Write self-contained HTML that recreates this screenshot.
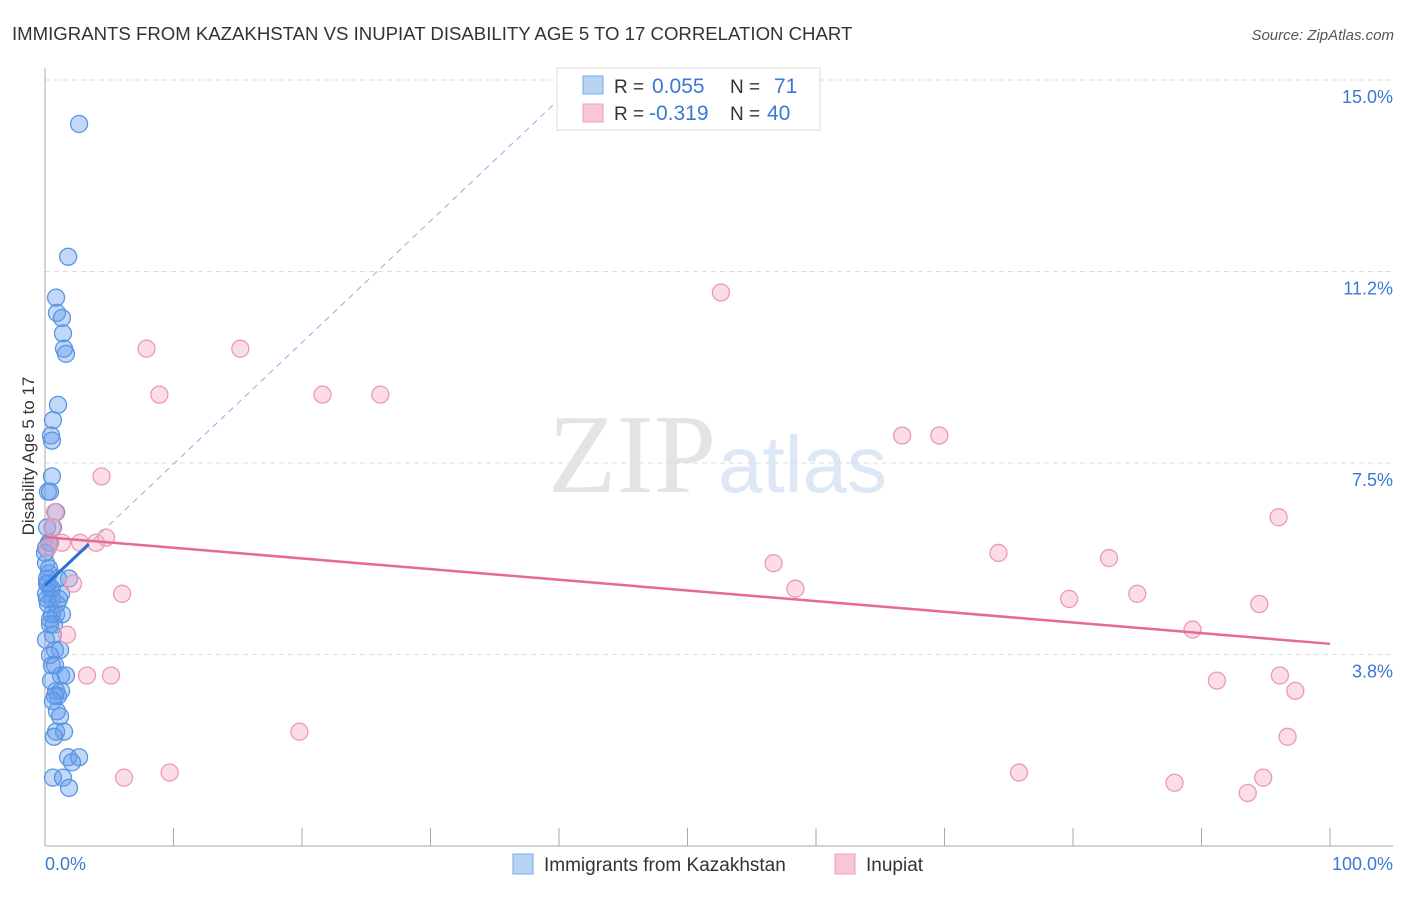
<!DOCTYPE html>
<html><head><meta charset="utf-8"><style>
body{margin:0;background:#fff;font-family:"Liberation Sans",sans-serif}
</style></head><body>
<svg id="c" width="1406" height="892" viewBox="0 0 1406 892" xmlns="http://www.w3.org/2000/svg">
<text x="12" y="40" font-size="18.6" fill="#333">IMMIGRANTS FROM KAZAKHSTAN VS INUPIAT DISABILITY AGE 5 TO 17 CORRELATION CHART</text>
<text x="1394" y="40" font-size="15" fill="#555" font-style="italic" text-anchor="end">Source: ZipAtlas.com</text>
<text x="716" y="492" font-size="112" fill="#e4e4e4" font-family="Liberation Serif,serif" text-anchor="end">ZIP</text>
<text x="718" y="492" font-size="80" fill="#dce8f6">atlas</text>
<text transform="translate(34,456) rotate(-90)" font-size="17" fill="#333" text-anchor="middle">Disability Age 5 to 17</text>
<g id="grid"></g><g id="marks"></g>
<g>
<rect x="557" y="68" width="263" height="62" fill="#fff" stroke="#ddd"/>
<rect x="583" y="76" width="20" height="18" fill="#b9d3f7" stroke="#7aa8e8"/>
<rect x="583" y="104" width="20" height="18" fill="#f9c6d4" stroke="#eea0b6"/>
<text x="614" y="93" font-size="19" fill="#333">R = <tspan x="652" fill="#3a78d4" font-size="21">0.055</tspan><tspan x="730">N = </tspan><tspan x="774" fill="#3a78d4" font-size="21">71</tspan></text>
<text x="614" y="120" font-size="19" fill="#333">R = <tspan x="649" fill="#3a78d4" font-size="21">-0.319</tspan><tspan x="730">N = </tspan><tspan x="767" fill="#3a78d4" font-size="21">40</tspan></text>
</g>
<g>
<rect x="513" y="854" width="20" height="20" fill="#b9d3f7" stroke="#7aa8e8"/>
<text x="544" y="871" font-size="19" fill="#333">Immigrants from Kazakhstan</text>
<rect x="835" y="854" width="20" height="20" fill="#f9c6d4" stroke="#eea0b6"/>
<text x="866" y="871" font-size="19" fill="#333">Inupiat</text>
</g>
</svg>
<script>
const yTicks=[15.0,11.25,7.5,3.75];
const yTickLabels=["15.0%","11.2%","7.5%","3.8%"];
const xTickLabels=["0.0%","100.0%"];
const blueX=[2.65,1.8,0.86,0.93,1.32,1.4,1.48,1.63,1.01,0.62,0.47,0.54,0.54,0.23,0.39,0.86,0.62,0.31,0.39,0.08,0.31,0.31,0.16,1.87,0.23,0.39,0.08,1.25,0.54,0.93,0.86,1.32,0.54,0.39,0.7,0.62,0.78,1.17,0.39,0.54,0.78,1.25,1.63,0.86,1.25,1.01,0.62,1.17,1.48,0.86,0.7,1.8,2.65,2.1,0.62,1.4,1.87,0.08,0.16,0.23,0.39,0.08,0.47,0.78,0.93,0.16,0.0,0.54,1.01,0.16,1.09];
const blueY=[14.1,11.5,10.7,10.4,10.3,10.0,9.7,9.6,8.6,8.3,8.0,7.9,7.2,6.9,6.9,6.5,6.2,5.9,5.9,5.8,5.4,5.3,5.2,5.2,5.1,5.0,4.9,4.9,4.8,4.7,4.5,4.5,4.5,4.4,4.3,4.1,3.8,3.8,3.7,3.5,3.5,3.3,3.3,3.0,3.0,2.9,2.8,2.5,2.2,2.2,2.1,1.7,1.7,1.6,1.3,1.3,1.1,5.5,5.1,4.7,4.3,4.0,3.2,2.9,2.6,6.2,5.7,5.0,5.2,4.8,4.8];
const pinkX=[52.6,7.9,15.2,8.9,21.6,26.1,66.7,69.6,4.4,96.0,0.78,0.54,1.32,2.73,3.97,4.75,0.23,2.18,74.2,82.8,56.7,58.4,6.0,85.0,79.7,94.5,1.71,89.3,3.27,5.14,91.2,96.1,97.3,19.8,96.7,75.8,9.7,6.15,87.9,94.8,93.6];
const pinkY=[10.8,9.7,9.7,8.8,8.8,8.8,8.0,8.0,7.2,6.4,6.5,6.2,5.9,5.9,5.9,6.0,5.8,5.1,5.7,5.6,5.5,5.0,4.9,4.9,4.8,4.7,4.1,4.2,3.3,3.3,3.2,3.3,3.0,2.2,2.1,1.4,1.4,1.3,1.2,1.3,1.0];
const pinkTrend=[6.05,3.96];
const blueTrend=[5.1,0.238];
const X=v=>45+v*12.85, Y=v=>80+(15-v)*51.07, YP=v=>Y(v)-2;
const NS="http://www.w3.org/2000/svg";
function mk(t,a,p){const e=document.createElementNS(NS,t);for(const k in a)e.setAttribute(k,a[k]);p.appendChild(e);return e;}
const g=document.getElementById('grid'), m=document.getElementById('marks');
yTicks.forEach((t,i)=>{
 const l=mk('line',{x1:45,x2:1393,y1:Y(t),y2:Y(t),stroke:'#ddd','stroke-dasharray':'5,4'},g);
 
 
 const tx=mk('text',{x:1393,y:Y(t)+23,'font-size':18,fill:'#3a78d4','text-anchor':'end'},g);
 tx.textContent=yTickLabels[i];
 
 
});
const ax=mk('line',{x1:45,x2:45,y1:68,y2:846,stroke:'#aaa'},g);


const bx=mk('line',{x1:45,x2:1393,y1:846,y2:846,stroke:'#aaa'},g);


for(let i=0;i<=10;i++){const t=mk('line',{x1:X(i*10),x2:X(i*10),y1:828,y2:846,stroke:'#aaa'},g);
 
 }
[[X(0),'start'],[1393,'end']].forEach((p,i)=>{const t=mk('text',{x:p[0],y:870,'font-size':18,fill:'#3a78d4','text-anchor':p[1]},g);t.textContent=xTickLabels[i];
 
 });
blueX.forEach((x,i)=>{const c=mk('circle',{cx:X(x),cy:YP(blueY[i]),r:8.5,fill:'rgba(100,158,238,0.4)',stroke:'#5b95e0','stroke-width':1.3},m);
 
 });
pinkX.forEach((x,i)=>{const c=mk('circle',{cx:X(x),cy:YP(pinkY[i]),r:8.5,fill:'rgba(248,170,195,0.4)',stroke:'#eb9ab2','stroke-width':1.3},m);
 
 });
const xe=(15-blueTrend[0])/blueTrend[1];
const d=mk('line',{x1:X(0),y1:Y(blueTrend[0]),x2:X(xe),y2:Y(15),stroke:'#8ab0e0','stroke-dasharray':'6,5','stroke-width':1},m);


const s=mk('line',{x1:X(0),y1:Y(blueTrend[0]),x2:X(3.4),y2:Y(blueTrend[0]+3.4*blueTrend[1]),stroke:'#2a6fd6','stroke-width':3},m);


const p=mk('line',{x1:X(0),y1:Y(pinkTrend[0]),x2:X(100),y2:Y(pinkTrend[1]),stroke:'#e56b95','stroke-width':2.5},m);


</script>
</body></html>
